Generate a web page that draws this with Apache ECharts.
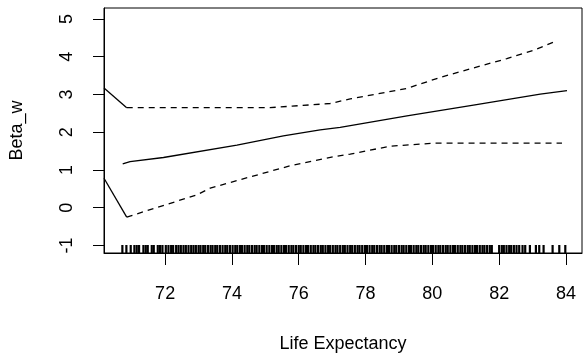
<!DOCTYPE html>
<html>
<head>
<meta charset="utf-8">
<script src="https://cdn.jsdelivr.net/npm/echarts@6/dist/echarts.min.js"></script>
<style>
  html, body { margin: 0; padding: 0; background: #fff; }
  #main { width: 583px; height: 361px; }
</style>
</head>
<body>
<div id="main"></div>
<script>
// estimate line (solid) and confidence bounds (dashed)
var mainLine = [[70.73, 1.16], [70.95, 1.22], [71.95, 1.33], [74.15, 1.66], [75.54, 1.90],
  [76.64, 2.06], [77.24, 2.13], [79.24, 2.43], [81.23, 2.72], [83.23, 3.01], [84.03, 3.10]];
var upperBand = [[70.85, 2.65], [75.14, 2.65], [75.8, 2.69], [76.94, 2.76], [77.54, 2.88],
  [79.24, 3.16], [80.23, 3.45], [82.23, 3.95], [83.03, 4.17], [83.73, 4.42]];
var lowerBand = [[70.85, -0.25], [72.95, 0.34], [73.35, 0.52], [75.74, 1.11], [77.04, 1.35],
  [77.54, 1.42], [78.74, 1.63], [80.04, 1.71], [83.88, 1.71]];
// solid pieces entering from the left edge
var upperLead = [[70.17, 3.17], [70.85, 2.65]];
var lowerLead = [[70.17, 0.78], [70.85, -0.25]];

// rug of observed life expectancy values
var rugValues = [70.72, 70.84, 70.97, 71.08, 71.15, 71.22, 71.35, 71.42, 71.48, 71.6, 71.66,
  71.78, 71.85, 71.92, 72.02, 72.1, 72.18, 72.24, 72.33, 72.4, 72.47, 72.55, 72.62, 72.7,
  72.78, 72.85, 72.92, 73.0, 73.06, 73.14, 73.2, 73.28, 73.36, 73.42, 73.5, 73.56, 73.64,
  73.72, 73.8, 73.86, 73.94, 74.02, 74.1, 74.16, 74.24, 74.3, 74.38, 74.46, 74.52, 74.6,
  74.68, 74.74, 74.82, 74.9, 74.96, 75.04, 75.12, 75.2, 75.26, 75.34, 75.4, 75.48, 75.56,
  75.62, 75.7, 75.78, 75.84, 75.92, 76.0, 76.06, 76.14, 76.22, 76.28, 76.36, 76.44, 76.5,
  76.58, 76.66, 76.72, 76.8, 76.88, 76.94, 77.02, 77.1, 77.16, 77.24, 77.32, 77.38, 77.46,
  77.54, 77.6, 77.68, 77.76, 77.82, 77.9, 77.98, 78.04, 78.12, 78.2, 78.26, 78.34, 78.42,
  78.48, 78.56, 78.64, 78.7, 78.78, 78.86, 78.92, 79.0, 79.08, 79.14, 79.22, 79.3, 79.36,
  79.44, 79.52, 79.58, 79.66, 79.74, 79.8, 79.88, 79.96, 80.02, 80.1, 80.18, 80.24, 80.32,
  80.4, 80.46, 80.54, 80.62, 80.68, 80.76, 80.84, 80.9, 80.98, 81.06, 81.12, 81.2, 81.28,
  81.34, 81.42, 81.5, 81.56, 81.64, 81.72, 81.78, 82.0, 82.08, 82.14, 82.22, 82.3, 82.36,
  82.44, 82.52, 82.6, 82.7, 82.78, 82.92, 83.1, 83.2, 83.33, 83.6, 83.8, 83.98];

var xTicks = [72, 74, 76, 78, 80, 82, 84];
var yTicks = [-1, 0, 1, 2, 3, 4, 5];

var xMin = 70.17, xMax = 84.48;
var yMin = -1.2, yMax = 5.29;

var font = 'Liberation Sans, Arial, Helvetica, sans-serif';
var chart = echarts.init(document.getElementById('main'));

chart.setOption({
  animation: false,
  grid: {
    left: 104, top: 8, right: 1, bottom: 108,
    show: true, borderColor: '#000', borderWidth: 1
  },
  xAxis: {
    type: 'value', min: xMin, max: xMax,
    name: 'Life Expectancy', nameLocation: 'middle', nameGap: 82,
    nameTextStyle: { fontFamily: font, fontSize: 18, color: '#000' },
    axisLine: { show: true, onZero: false, lineStyle: { color: '#000', width: 1 } },
    axisTick: { show: true, length: 12, customValues: xTicks, lineStyle: { color: '#000' } },
    axisLabel: {
      customValues: xTicks, margin: 32, color: '#000', fontFamily: font, fontSize: 18,
      formatter: function (v) { return String(v); }
    },
    splitLine: { show: false }
  },
  yAxis: {
    type: 'value', min: yMin, max: yMax,
    name: 'Beta_w', nameLocation: 'middle', nameGap: 78,
    nameTextStyle: { fontFamily: font, fontSize: 18, color: '#000' },
    axisLine: { show: true, onZero: false, lineStyle: { color: '#000', width: 1 } },
    axisTick: { show: true, length: 11, customValues: yTicks, lineStyle: { color: '#000' } },
    axisLabel: {
      customValues: yTicks, rotate: 90, margin: 28, color: '#000', fontFamily: font, fontSize: 18,
      formatter: function (v) { return String(v); }
    },
    splitLine: { show: false }
  },
  series: [
    {
      type: 'line', data: mainLine, showSymbol: false, clip: true,
      lineStyle: { color: '#000', width: 1.3 }
    },
    {
      type: 'line', data: upperBand, showSymbol: false, clip: true,
      lineStyle: { color: '#000', width: 1.3, type: [6, 5] }
    },
    {
      type: 'line', data: lowerBand, showSymbol: false, clip: true,
      lineStyle: { color: '#000', width: 1.3, type: [6, 5] }
    },
    {
      type: 'line', data: upperLead, showSymbol: false, clip: true,
      lineStyle: { color: '#000', width: 1.3 }
    },
    {
      type: 'line', data: lowerLead, showSymbol: false, clip: true,
      lineStyle: { color: '#000', width: 1.3 }
    },
    {
      type: 'custom', clip: true,
      data: rugValues.map(function (v) { return [v]; }),
      renderItem: function (params, api) {
        var p = api.coord([api.value(0), yMin]);
        return {
          type: 'line',
          shape: { x1: p[0], y1: p[1], x2: p[0], y2: p[1] - 8 },
          style: { stroke: '#000', lineWidth: 2.2 }
        };
      }
    }
  ]
});
</script>
</body>
</html>
